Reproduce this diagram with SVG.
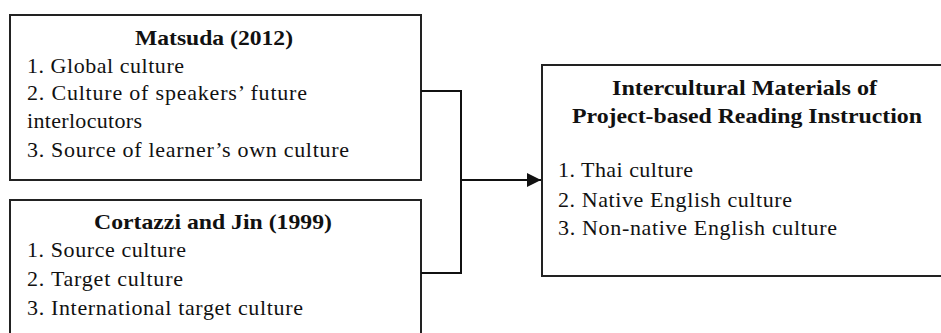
<svg xmlns="http://www.w3.org/2000/svg" width="941" height="333" viewBox="0 0 941 333">
<defs>
<style>
.box{fill:#fff;stroke:#222;stroke-width:2}
.con{fill:none;stroke:#111;stroke-width:2}
text{font-family:"Liberation Serif","Times New Roman",serif;font-size:22px;fill:#111}
.t{font-weight:bold;text-anchor:middle;font-size:21px}
</style>
<marker id="arr" viewBox="0 0 14 14" refX="14" refY="7" markerWidth="14" markerHeight="14" markerUnits="userSpaceOnUse" orient="auto">
<path d="M0,0 L14,7 L0,14 z" fill="#111"/>
</marker>
</defs>
<rect width="941" height="333" fill="#fff"/>
<g id="matsuda">
<rect class="box" x="10" y="15" width="411" height="165"/>
<text class="t" x="214" y="45" textLength="158" lengthAdjust="spacingAndGlyphs">Matsuda (2012)</text>
<text x="27" y="73" textLength="157" lengthAdjust="spacing">1. Global culture</text>
<text x="27" y="100" textLength="280" lengthAdjust="spacing">2. Culture of speakers’ future</text>
<text x="27" y="128" textLength="115" lengthAdjust="spacing">interlocutors</text>
<text x="27" y="157" textLength="322" lengthAdjust="spacing">3. Source of learner’s own culture</text>
</g>
<g id="cortazzi">
<rect class="box" x="10" y="200" width="411" height="145"/>
<text class="t" x="213" y="229" textLength="238" lengthAdjust="spacingAndGlyphs">Cortazzi and Jin (1999)</text>
<text x="27" y="257" textLength="159" lengthAdjust="spacing">1. Source culture</text>
<text x="27" y="286" textLength="156" lengthAdjust="spacing">2. Target culture</text>
<text x="27" y="315" textLength="276" lengthAdjust="spacing">3. International target culture</text>
</g>
<g id="intercultural">
<rect class="box" x="542" y="65" width="410" height="211"/>
<text class="t" x="744.5" y="95" textLength="265" lengthAdjust="spacingAndGlyphs">Intercultural Materials of</text>
<text class="t" x="747" y="123" textLength="350" lengthAdjust="spacingAndGlyphs">Project-based Reading Instruction</text>
<text x="558" y="177" textLength="135" lengthAdjust="spacing">1. Thai culture</text>
<text x="558" y="207" textLength="234" lengthAdjust="spacing">2. Native English culture</text>
<text x="558" y="235" textLength="279" lengthAdjust="spacing">3. Non-native English culture</text>
</g>
<g id="connectors">
<path class="con" d="M421,91 H461 V273 H421"/>
<path class="con" d="M461,180 H541" marker-end="url(#arr)"/>
</g>
</svg>
